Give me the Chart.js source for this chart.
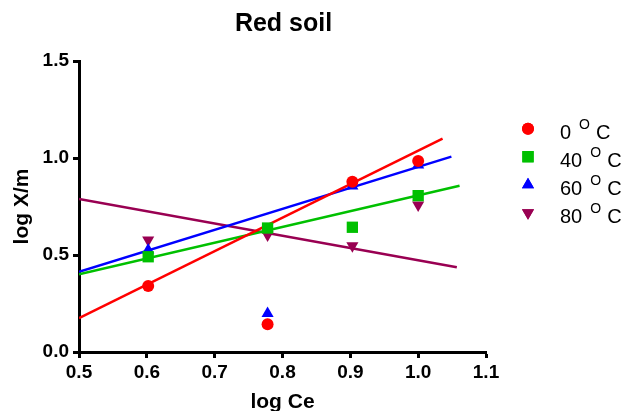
<!DOCTYPE html>
<html>
<head>
<meta charset="utf-8">
<script src="https://cdn.jsdelivr.net/npm/chart.js@4/dist/chart.umd.min.js"></script>
<style>
  html, body { margin: 0; padding: 0; background: #fff; }
  #wrap { width: 629px; height: 411px; position: relative; }
</style>
</head>
<body>
<div id="wrap"><canvas id="c" width="629" height="411"></canvas></div>
<script>
// ---- data ----
const chartTitle = "Red soil";
const xTitle = "log Ce";
const yTitle = "log X/m";
const seriesNames = ["0", "40", "60", "80"];
const logCe = [0.602, 0.778, 0.903, 1.0];
const series0 = [0.340, 0.143, 0.878, 0.985];
const series40 = [0.491, 0.639, 0.643, 0.806];
const series60 = [0.526, 0.199, 0.856, 0.964];
const series80 = [0.577, 0.603, 0.548, 0.758];
// fitted lines: [x0, y0, x1, y1]
const fit0 = [0.5, 0.174, 1.036, 1.100];
const fit40 = [0.5, 0.400, 1.061, 0.857];
const fit60 = [0.5, 0.414, 1.049, 1.007];
const fit80 = [0.5, 0.789, 1.057, 0.437];
const xTicks = [0.5, 0.6, 0.7, 0.8, 0.9, 1.0, 1.1];
const yTicks = [0.0, 0.5, 1.0, 1.5];

const colors = ["#ff0000", "#00c000", "#0000ff", "#990052"];
const styles = [
  { pointStyle: "circle", radius: 6, rotation: 0 },
  { pointStyle: "rect", radius: 8, rotation: 0 },
  { pointStyle: "triangle", radius: 7, rotation: 0 },
  { pointStyle: "triangle", radius: 7, rotation: 180 }
];
const allSeries = [series0, series40, series60, series80];
const allFits = [fit0, fit40, fit60, fit80];

const datasets = [];
allFits.forEach((f, i) => {
  datasets.push({
    type: "line",
    label: "fit " + seriesNames[i],
    data: [{ x: f[0], y: f[1] }, { x: f[2], y: f[3] }],
    borderColor: colors[i],
    borderWidth: 2.5,
    pointRadius: 0,
    fill: false,
    order: 2
  });
});
allSeries.forEach((s, i) => {
  datasets.push({
    type: "scatter",
    label: seriesNames[i],
    data: logCe.map((x, k) => ({ x: x, y: s[k] })),
    backgroundColor: colors[i],
    borderColor: colors[i],
    borderWidth: 0,
    pointStyle: styles[i].pointStyle,
    pointRadius: styles[i].radius,
    pointRotation: styles[i].rotation,
    showLine: false,
    order: 1
  });
});

const FONT = "'Liberation Sans', Arial, Helvetica, sans-serif";

const decorPlugin = {
  id: "decor",
  afterDraw(chart) {
    const ctx = chart.ctx;
    const ca = chart.chartArea;
    ctx.save();
    // title
    ctx.fillStyle = "#000";
    ctx.font = "bold 25px " + FONT;
    ctx.textAlign = "center";
    ctx.textBaseline = "alphabetic";
    ctx.fillText(chartTitle, (ca.left + ca.right) / 2 + 1, 31);
    // legend
    const mx = 528, tx = 560, y0 = 128.7, dy = 28;
    seriesNames.forEach((name, i) => {
      const cy = y0 + i * dy;
      const st = styles[i];
      ctx.fillStyle = colors[i];
      ctx.strokeStyle = colors[i];
      ctx.lineWidth = 0;
      Chart.helpers.drawPoint(ctx, {
        pointStyle: st.pointStyle,
        radius: st.radius,
        rotation: st.rotation,
        borderWidth: 0
      }, mx, cy);
      ctx.fill();
      ctx.fillStyle = "#000";
      ctx.textAlign = "left";
      ctx.textBaseline = "alphabetic";
      const base = cy + 10.5;
      ctx.font = "20px " + FONT;
      let x = tx;
      ctx.fillText(name, x, base);
      x += ctx.measureText(name).width + 8;
      ctx.font = "14px " + FONT;
      ctx.fillText("O", x, base - 10);
      x += ctx.measureText("O").width + 6;
      ctx.font = "20px " + FONT;
      ctx.fillText("C", x, base);
    });
    ctx.restore();
  }
};

new Chart(document.getElementById("c"), {
  data: { datasets: datasets },
  plugins: [decorPlugin],
  options: {
    responsive: false,
    animation: false,
    layout: { padding: { top: 61, right: 143, left: 0, bottom: 0 } },
    plugins: { legend: { display: false }, title: { display: false }, tooltip: { enabled: false } },
    scales: {
      x: {
        type: "linear",
        min: 0.5, max: 1.1,
        afterBuildTicks: (s) => { s.ticks = xTicks.map(v => ({ value: v })); },
        afterFit: (s) => { s.height = 59; },
        grid: { drawOnChartArea: false, drawTicks: true, tickLength: 6, tickWidth: 3, color: "#000" },
        border: { color: "#000", width: 3 },
        ticks: {
          color: "#000", padding: 3,
          font: { family: FONT, size: 19, weight: "bold" },
          callback: (v) => Number(v).toFixed(1),
          maxRotation: 0
        },
        title: {
          display: true, text: xTitle, color: "#000",
          font: { family: FONT, size: 21, weight: "bold" },
          padding: { top: 0, bottom: -4 }
        }
      },
      y: {
        type: "linear",
        min: 0, max: 1.5,
        afterBuildTicks: (s) => { s.ticks = yTicks.map(v => ({ value: v })); },
        afterFit: (s) => { s.width = 79; },
        grid: { drawOnChartArea: false, drawTicks: true, tickLength: 6, tickWidth: 3, color: "#000" },
        border: { color: "#000", width: 3 },
        ticks: {
          color: "#000", padding: 4,
          font: { family: FONT, size: 19, weight: "bold" },
          callback: (v) => Number(v).toFixed(1)
        },
        title: {
          display: true, text: yTitle, color: "#000",
          font: { family: FONT, size: 21, weight: "bold" },
          padding: { top: 10, bottom: 0 }
        }
      }
    }
  }
});
</script>
</body>
</html>
